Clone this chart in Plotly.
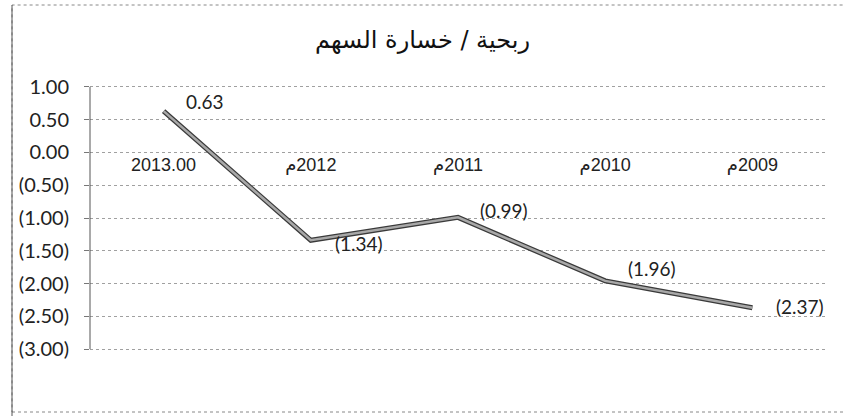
import plotly.graph_objects as go

categories = ["2013.00", "\u202dم2012\u202c", "\u202dم2011\u202c", "\u202dم2010\u202c", "\u202dم2009\u202c"]
values = [0.63, -1.34, -0.99, -1.96, -2.37]
value_labels = ["0.63", "(1.34)", "(0.99)", "(1.96)", "(2.37)"]
label_dx = [20, 22, 20, 21, 22]
label_dy = [10, -3, 7, 12, 1]
y_tickvals = [1.0, 0.5, 0.0, -0.5, -1.0, -1.5, -2.0, -2.5, -3.0]
y_ticktext = ["1.00", "0.50", "0.00", "(0.50)", "(1.00)", "(1.50)", "(2.00)", "(2.50)", "(3.00)"]
title_text = "ربحية / خسارة السهم"

Y_LO, Y_HI = -3.06, 1.06
PLOT_H = 270
PLOT_W = 736

fig = go.Figure()
# dark outline of the line
fig.add_trace(go.Scatter(
    x=categories, y=values, mode="lines",
    line=dict(color="#3a3a3a", width=5),
    hoverinfo="skip", showlegend=False,
))
# lighter inner line
fig.add_trace(go.Scatter(
    x=categories, y=values, mode="lines",
    line=dict(color="#a8a8a8", width=2.5),
    showlegend=False,
))

for i, (val, lab, dx, dy) in enumerate(zip(values, value_labels, label_dx, label_dy)):
    fig.add_annotation(
        x=i, y=val, text=lab, showarrow=False,
        xanchor="left", yanchor="middle", xshift=dx, yshift=dy,
        font=dict(family="Lato, DejaVu Sans", size=19, color="#222"),
    )

fig.update_layout(
    width=845, height=416,
    margin=dict(l=90, r=19, t=83, b=63, autoexpand=False),
    paper_bgcolor="white", plot_bgcolor="white",
    title=dict(text=title_text, x=0.5, xanchor="center", y=0.905, yanchor="middle",
               font=dict(family="DejaVu Sans", size=24, color="#111")),
    showlegend=False,
)

fig.update_yaxes(
    range=[Y_LO, Y_HI], tickvals=y_tickvals, ticktext=y_ticktext,
    showgrid=True, gridcolor="#a0a0a0", griddash="dot", gridwidth=1,
    zeroline=False, showline=False, ticks="outside", ticklen=5, tickcolor="#777",
    ticklabelstandoff=11, automargin=False,
    tickfont=dict(family="Lato, DejaVu Sans", size=20, color="#222"),
    domain=[0, 1],
)
fig.update_xaxes(
    type="category", range=[-0.5, 4.5],
    anchor="free", position=(0 - Y_LO) / (Y_HI - Y_LO), automargin=False,
    showgrid=False, zeroline=False, showline=False, ticks="",
    tickfont=dict(family="Liberation Sans, DejaVu Sans", size=18, color="#222"),
)

# vertical value-axis line spanning the tick range
fig.add_shape(type="line", xref="paper", yref="y",
              x0=0, x1=0, y0=y_tickvals[-1], y1=y_tickvals[0],
              line=dict(color="#555", width=1))

# outer chart-area border (scan style)
fig.add_shape(type="rect", xref="paper", yref="paper",
              x0=-78 / PLOT_W, x1=1.05, y0=-59 / PLOT_H, y1=1 + 78 / PLOT_H,
              line=dict(color="#888", width=1, dash="dot"), layer="below")
fig.add_shape(type="line", xref="paper", yref="paper",
              x0=-78 / PLOT_W, x1=-78 / PLOT_W, y0=-0.3, y1=1 + 78 / PLOT_H,
              line=dict(color="#555", width=1), layer="below")

fig.write_html("out.html", config={"displayModeBar": False},
               post_script="document.body.style.margin='0';")
